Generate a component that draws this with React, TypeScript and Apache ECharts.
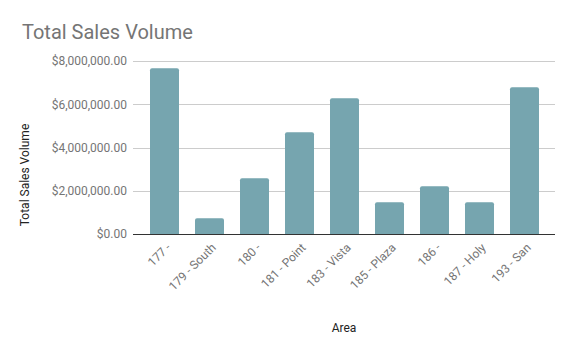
import React, { useEffect, useRef } from "react";
import * as echarts from "echarts";

const categories = [
  "177 -",
  "179 - South",
  "180 -",
  "181 - Point",
  "183 - Vista",
  "185 - Plaza",
  "186 -",
  "187 - Holy",
  "193 - San",
];
const salesVolume = [7680000, 740000, 2590000, 4720000, 6290000, 1480000, 2220000, 1480000, 6800000];
const yTicks = [0, 2000000, 4000000, 6000000, 8000000];

const fmt = (v: number) =>
  "$" +
  v.toLocaleString("en-US", { minimumFractionDigits: 2, maximumFractionDigits: 2 });

export default function App() {
  const ref = useRef<HTMLDivElement>(null);
  useEffect(() => {
    if (!ref.current) return;
    const chart = echarts.init(ref.current, null, { renderer: "svg" });
    const top = 61.3;
    const bottom = 354 - 234.3;
    chart.setOption({
      animation: false,
      textStyle: { fontFamily: "Roboto" },
      title: {
        text: "Total Sales Volume",
        left: 17,
        top: 17,
        textStyle: { fontFamily: "Roboto", fontSize: 20, fontWeight: "normal", color: "#757575" },
      },
      grid: [
        { left: 133, right: 17, top, bottom },
        { left: 142, right: 25, top, bottom },
      ],
      xAxis: [
        { type: "value", gridIndex: 0, min: 0, max: 1, show: false },
        {
          type: "category",
          gridIndex: 1,
          data: categories,
          axisTick: { show: false },
          axisLine: { show: false },
          axisLabel: {
            rotate: 45,
            interval: 0,
            margin: 7,
            verticalAlign: "top",
            fontSize: 12,
            color: "#757575",
            fontFamily: "Roboto",
          },
        },
      ],
      yAxis: [
        {
          type: "value",
          gridIndex: 0,
          min: 0,
          max: yTicks[yTicks.length - 1],
          interval: yTicks[1] - yTicks[0],
          axisLine: { show: false },
          axisTick: { show: false },
          splitLine: { lineStyle: { color: "#cccccc", width: 1 } },
          axisLabel: {
            formatter: (v: number) => fmt(v),
            fontSize: 12,
            color: "#757575",
            margin: 6,
            fontFamily: "Roboto",
          },
        },
        {
          type: "value",
          gridIndex: 1,
          min: 0,
          max: yTicks[yTicks.length - 1],
          show: false,
        },
      ],
      graphic: [
        {
          type: "text",
          x: 25,
          y: 175,
          rotation: Math.PI / 2,
          style: {
            text: "Total Sales Volume",
            fill: "#222222",
            fontSize: 12,
            fontFamily: "Roboto",
            align: "center",
            verticalAlign: "middle",
          },
        },
        {
          type: "text",
          x: 344,
          y: 328,
          style: {
            text: "Area",
            fill: "#222222",
            fontSize: 12,
            fontFamily: "Roboto",
            align: "center",
            verticalAlign: "middle",
          },
        },
      ],
      series: [
        {
          type: "line",
          xAxisIndex: 0,
          yAxisIndex: 0,
          data: [],
          markLine: {
            silent: true,
            symbol: "none",
            label: { show: false },
            lineStyle: { color: "#333333", width: 1, type: "solid" },
            data: [[{ coord: [0, 0] }, { coord: [1, 0] }]],
          },
        },
        {
          type: "bar",
          xAxisIndex: 1,
          yAxisIndex: 1,
          data: salesVolume,
          barWidth: 29,
          itemStyle: { color: "#76a5af", borderRadius: [2, 2, 0, 0] },
          z: 1,
        },
      ],
    });
    return () => chart.dispose();
  }, []);
  return (
    <div
      ref={ref}
      style={{ position: "fixed", left: 0, top: 0, width: 572, height: 354, background: "#fff" }}
    />
  );
}
